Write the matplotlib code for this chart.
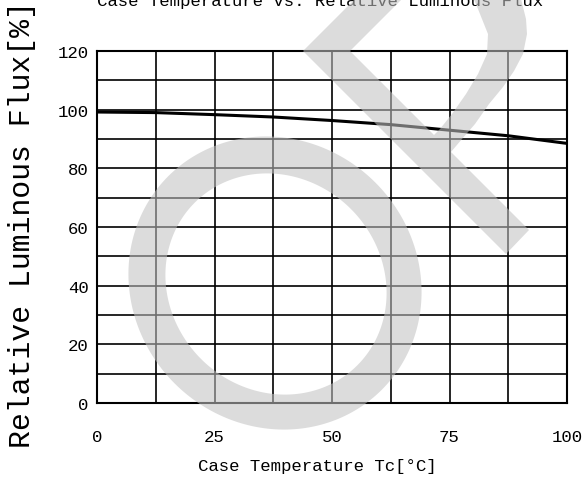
import numpy as np
import matplotlib
matplotlib.use("Agg")
import matplotlib.pyplot as plt
from matplotlib.path import Path
from matplotlib.patches import PathPatch

# data
temperature = [0, 12.5, 25, 37.5, 50, 62.5, 75, 87.5, 100]
flux = [99.2, 99.0, 98.3, 97.5, 96.3, 94.9, 93.0, 91.1, 88.5]
x_ticks = [0, 25, 50, 75, 100]
y_ticks = [0, 20, 40, 60, 80, 100, 120]

W, H = 588, 481
FONT = "Liberation Mono"
plt.rcParams["font.family"] = [FONT, "DejaVu Sans"]


def signed_area(pts):
    x, y = pts[:, 0], pts[:, 1]
    return 0.5 * np.sum(x * np.roll(y, -1) - np.roll(x, -1) * y)


def contour(pts, outer=True):
    pts = np.asarray(pts, dtype=float)
    a = signed_area(pts)
    if (a > 0) != outer:
        pts = pts[::-1]
    verts = np.vstack([pts, pts[:1]])
    codes = [Path.MOVETO] + [Path.LINETO] * (len(pts) - 1) + [Path.CLOSEPOLY]
    return verts, codes


def ellipse_pts(cx, cy, a, b, ang, n=240):
    t = np.linspace(0, 2 * np.pi, n, endpoint=False)
    c, s = np.cos(ang), np.sin(ang)
    x = a * np.cos(t)
    y = b * np.sin(t)
    return np.column_stack([cx + x * c - y * s, cy + x * s + y * c])


fig = plt.figure(figsize=(W / 100, H / 100), dpi=100)
ax = fig.add_axes([97 / W, 1 - 404 / H, 470 / W, 352 / H])

ax.plot(temperature, flux, color="black", lw=2.2, solid_capstyle="butt", zorder=3)

ax.set_xlim(0, 100)
ax.set_ylim(0, 120)
ax.set_xticks(x_ticks)
ax.set_yticks(y_ticks)
ax.set_xticks(np.arange(0, 101, 12.5), minor=True)
ax.set_yticks(np.arange(0, 121, 10), minor=True)
ax.grid(which="both", color="black", lw=1.2)
ax.tick_params(which="both", length=0)
ax.tick_params(axis="x", pad=19, labelsize=12.5)
ax.tick_params(axis="y", pad=6, labelsize=12.5)
for lab in ax.get_xticklabels() + ax.get_yticklabels():
    lab.set_family(FONT)
for sp in ax.spines.values():
    sp.set_linewidth(1.5)
    sp.set_color("black")

fig.text(320 / W, 1 - 6 / H, "Case Temperature vs. Relative Luminous Flux",
         ha="center", va="baseline", fontsize=12.5, family=FONT)
fig.text(317 / W, 1 - 466 / H, "Case Temperature Tc[°C]",
         ha="center", va="center", fontsize=12.5, family=FONT)
fig.text(22 / W, 1 - 225 / H, "Relative Luminous Flux[%]",
         ha="center", va="center", rotation=90, fontsize=21.5, family=FONT)

# grey watermark drawn over everything, in image pixel coordinates
wm = fig.add_axes([0, 0, 1, 1], zorder=10)
wm.set_xlim(0, W)
wm.set_ylim(H, 0)
wm.axis("off")
wm.patch.set_visible(False)

ring_out = ellipse_pts(275, 284, 151, 142, np.pi / 4)
ring_in = ellipse_pts(276, 285, 115, 106, np.pi / 4)
mark_out = [(303, 52), (355, 0), (372, -17), (420, -45), (480, -45), (512, -22),
            (521, 0), (526, 20), (527, 35), (523, 55), (514, 72), (503, 88),
            (489, 105), (475, 125), (462, 140), (451, 153), (529, 231), (506, 255)]
mark_in = [(350, 52), (402, 0), (420, -18), (450, -22), (470, -8), (476, 5),
           (488, 35), (487, 55), (478, 75), (466, 95), (452, 115), (440, 130),
           (434, 136)]

verts, codes = [], []
for pts, outer in [(ring_out, True), (ring_in, False), (mark_out, True), (mark_in, False)]:
    v, c = contour(pts, outer)
    verts.append(v)
    codes += c
wm_path = Path(np.vstack(verts), codes)
wm.add_patch(PathPatch(wm_path, facecolor=(0.76, 0.76, 0.76), edgecolor="none",
                       alpha=0.57))

fig.savefig("out.png", dpi=100)
